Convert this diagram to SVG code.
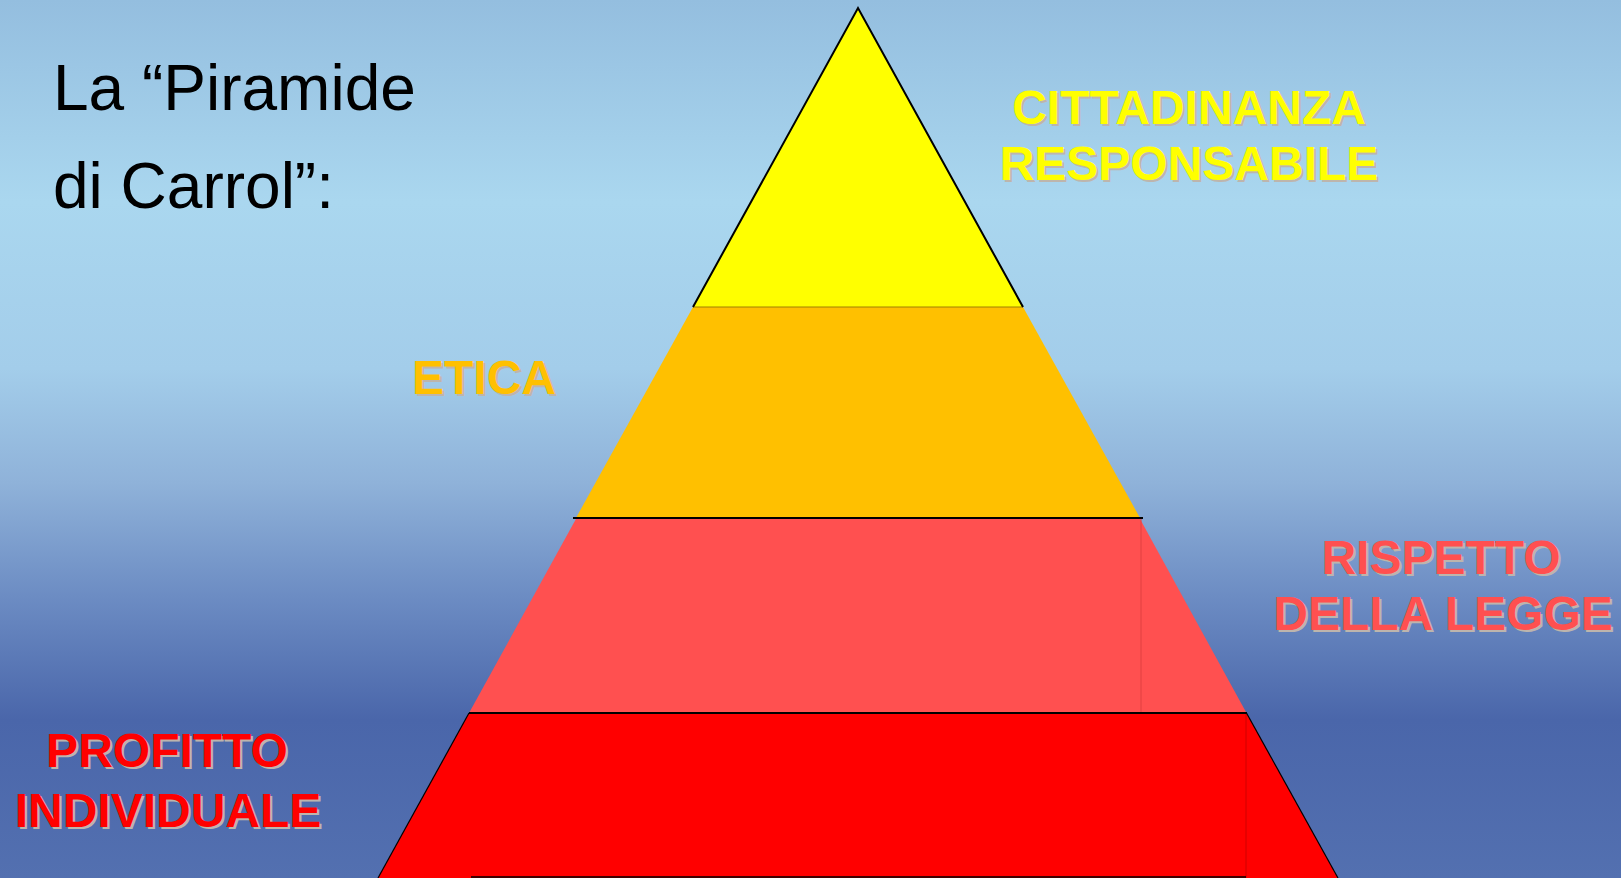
<svg xmlns="http://www.w3.org/2000/svg" width="1621" height="878" viewBox="0 0 1621 878">
<defs>
<linearGradient id="bg" x1="0" y1="0" x2="0" y2="1">
<stop offset="0" stop-color="#94bedf"/>
<stop offset="0.23" stop-color="#aad7ef"/>
<stop offset="0.42" stop-color="#a3cdea"/>
<stop offset="0.55" stop-color="#8fb2d9"/>
<stop offset="0.68" stop-color="#6c8cc3"/>
<stop offset="0.82" stop-color="#4a66aa"/>
<stop offset="1" stop-color="#5370b0"/>
</linearGradient>
</defs>
<style>
.title{font-family:"Liberation Sans",Arial,sans-serif;font-size:64px;fill:#000}
.lbl{font-family:"Liberation Sans",Arial,sans-serif;font-size:48px;font-weight:bold;text-anchor:middle}
.sh{fill:#bdb5ad}
.edge{stroke:#000;stroke-width:2;fill:none}
</style>
<rect width="1621" height="878" fill="url(#bg)"/>
<g id="title">
<text class="title" x="53" y="110">La “Piramide</text>
<text class="title" x="53" y="208">di Carrol”:</text>
</g>
<g id="pyramid">
<g id="level-profitto">
<polygon points="469,713 1246.5,713 1338,878 378,878" fill="#ff0000"/>
<line x1="1246" y1="713" x2="1246" y2="878" stroke="#d00000" stroke-width="1"/>
<line x1="469" y1="713" x2="378" y2="878" stroke="#000" stroke-width="1.2"/>
<line x1="1246.5" y1="713" x2="1338" y2="878" stroke="#000" stroke-width="1.2"/>
<line x1="471" y1="877" x2="1246" y2="877" stroke="#000" stroke-width="1.5"/>
</g>
<g id="level-legge">
<polygon points="576.5,518 1139.5,518 1246.5,713 469,713" fill="#ff5050"/>
<line x1="1141" y1="518" x2="1141" y2="713" stroke="#e04040" stroke-width="1"/>
<line x1="573" y1="518" x2="1143" y2="518" stroke="#000" stroke-width="2"/>
<line x1="469" y1="713" x2="1247" y2="713" stroke="#000" stroke-width="2"/>
</g>
<g id="level-etica">
<polygon points="693,307 1023,307 1139.5,517 576.5,517" fill="#ffc000"/>
</g>
<g id="level-cittadinanza">
<polygon points="858,8 1023,307 693,307" fill="#ffff00"/>
<line x1="693" y1="307" x2="1023" y2="307" stroke="#a08000" stroke-width="1"/>
<polyline class="edge" points="693,307 858,8 1023,307"/>
</g>
</g>
<g id="labels">
<g id="lbl-cittadinanza">
<text class="lbl sh" x="1191" y="126">CITTADINANZA</text>
<text class="lbl sh" x="1191" y="182">RESPONSABILE</text>
<text class="lbl" x="1189" y="124" fill="#ffff00">CITTADINANZA</text>
<text class="lbl" x="1189" y="180" fill="#ffff00">RESPONSABILE</text>
</g>
<g id="lbl-etica">
<text class="lbl sh" x="486" y="396">ETICA</text>
<text class="lbl" x="484" y="394" fill="#ffc000">ETICA</text>
</g>
<g id="lbl-legge">
<text class="lbl sh" x="1443" y="576">RISPETTO</text>
<text class="lbl sh" x="1445" y="632">DELLA LEGGE</text>
<text class="lbl" x="1441" y="574" fill="#ff5050">RISPETTO</text>
<text class="lbl" x="1443" y="630" fill="#ff5050">DELLA LEGGE</text>
</g>
<g id="lbl-profitto">
<text class="lbl sh" x="169" y="769">PROFITTO</text>
<text class="lbl sh" x="170" y="829">INDIVIDUALE</text>
<text class="lbl" x="167" y="767" fill="#ff0000">PROFITTO</text>
<text class="lbl" x="168" y="827" fill="#ff0000">INDIVIDUALE</text>
</g>
</g>
</svg>
